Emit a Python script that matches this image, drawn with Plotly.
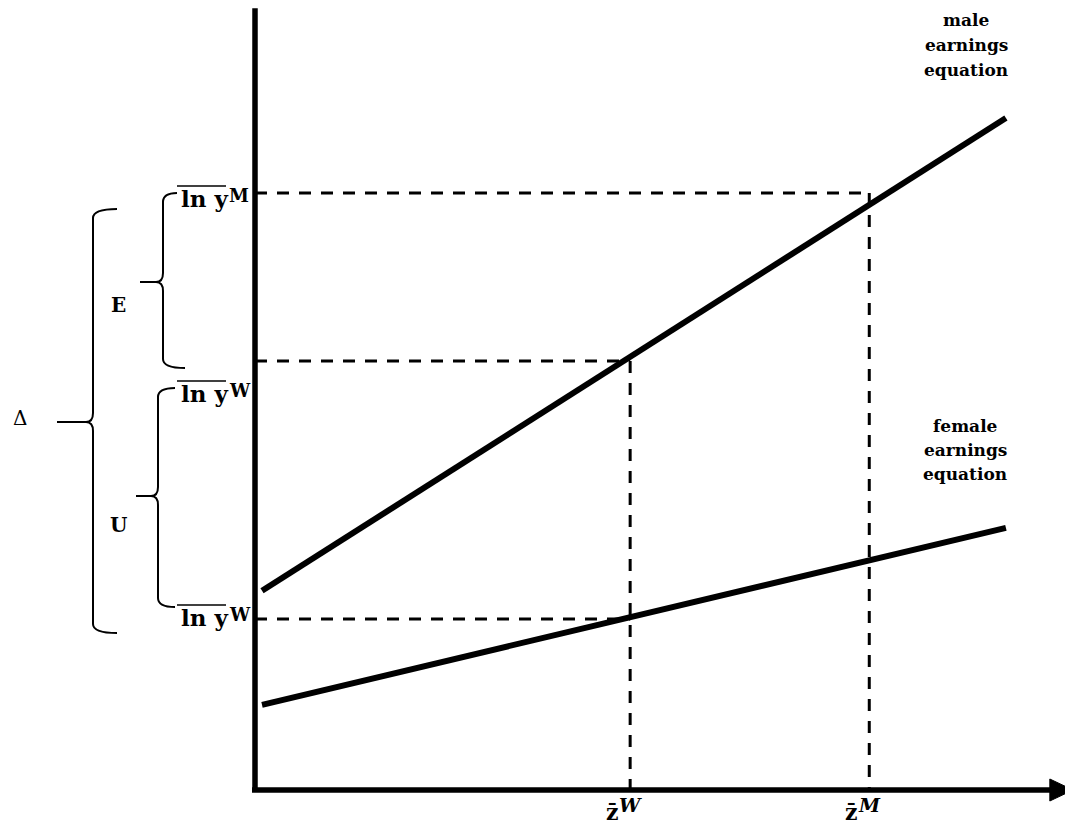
import plotly.graph_objects as go

# values (z = characteristics, ln y = log earnings)
z_bar_w = 6.15
z_bar_m = 10.07
male_z = [0.115, 12.31]
male_lny = [3.32, 11.2]
female_z = [0.115, 12.31]
female_lny = [1.42, 4.37]
lny_bar_m = 9.95
lny_w_male_coef = 7.15   # women's mean z priced with the male equation
lny_bar_w = 2.85
axis_top = 13.03
axis_end = 13.41

W, H = 1073, 822
PAGE_OFF = 8              # the page body margin pushes the figure in by this much
PX_X, PX_Y = 61.0, 60.0   # pixels per data unit
OX, OY = 255, 790         # pixel position of the origin (page coordinates)

def X(px):
    return (px - OX) / PX_X

def Y(py):
    return (OY - py) / PX_Y

FONT = "DejaVu Serif"
BLACK = "black"

fig = go.Figure()

fig.add_trace(go.Scatter(x=male_z, y=male_lny, mode="lines",
                         line=dict(color=BLACK, width=6), hoverinfo="skip"))
fig.add_trace(go.Scatter(x=female_z, y=female_lny, mode="lines",
                         line=dict(color=BLACK, width=6), hoverinfo="skip"))

dash = dict(color=BLACK, width=3, dash="12px,10px")
# dashed guides
for zv, yv in [(z_bar_m, lny_bar_m), (z_bar_w, lny_w_male_coef), (z_bar_w, lny_bar_w)]:
    fig.add_shape(type="line", x0=0, x1=zv, y0=yv, y1=yv, line=dash)
for zv, yv in [(z_bar_m, lny_bar_m), (z_bar_w, lny_w_male_coef)]:
    fig.add_shape(type="line", x0=zv, x1=zv, y0=yv, y1=0, line=dash)

# axes
fig.add_shape(type="line", x0=0, x1=0, y0=0, y1=axis_top, line=dict(color=BLACK, width=5.5))
fig.add_shape(type="line", x0=X(252), x1=axis_end - 0.3, y0=0, y1=0, line=dict(color=BLACK, width=5.5))
fig.add_shape(type="path",
              path=f"M {axis_end - 0.38} {Y(779)} L {axis_end} {Y(790)} L {axis_end - 0.38} {Y(801)} Z",
              fillcolor=BLACK, line=dict(color=BLACK, width=1))


def brace(xc, ytop, ybot, ymid, arm_top, arm_bot, tip, r=9, c=7):
    p = (f"M {X(xc + arm_top)} {Y(ytop)} Q {X(xc)} {Y(ytop)} {X(xc)} {Y(ytop + r)} "
         f"L {X(xc)} {Y(ymid - r)} Q {X(xc)} {Y(ymid)} {X(xc - c)} {Y(ymid)} "
         f"L {X(tip)} {Y(ymid)} M {X(xc - c)} {Y(ymid)} "
         f"Q {X(xc)} {Y(ymid)} {X(xc)} {Y(ymid + r)} "
         f"L {X(xc)} {Y(ybot - r)} Q {X(xc)} {Y(ybot)} {X(xc + arm_bot)} {Y(ybot)}")
    fig.add_shape(type="path", path=p, line=dict(color=BLACK, width=2))


brace(163, 193, 368, 282, 14, 22, 140)
brace(158, 388, 607, 496, 17, 17, 136)
brace(93, 209, 633, 422, 24, 24, 57)

# ln y labels with overlines (overline height in page pixels)
labels = [("M", 186), ("W", 381), ("W", 605)]
for sup, py in labels:
    fig.add_annotation(x=X(179), y=Y(py + 12), xref="x", yref="y", xanchor="left", yanchor="middle",
                       text="<b>ln y</b>", showarrow=False,
                       font=dict(family=FONT, size=23, color=BLACK))
    fig.add_annotation(x=X(227), y=Y(py + 9), xref="x", yref="y", xanchor="left", yanchor="middle",
                       text=f"<b>{sup}</b>", showarrow=False,
                       font=dict(family=FONT, size=18, color=BLACK))
    fig.add_shape(type="line", x0=X(177), x1=X(226), y0=Y(py), y1=Y(py),
                  line=dict(color=BLACK, width=1.5))

fig.add_annotation(x=X(118), y=Y(305), xref="x", yref="y", text="<b>E</b>", showarrow=False,
                   font=dict(family=FONT, size=20, color=BLACK))
fig.add_annotation(x=X(118), y=Y(525), xref="x", yref="y", text="<b>U</b>", showarrow=False,
                   font=dict(family=FONT, size=20, color=BLACK))
fig.add_annotation(x=X(20), y=Y(418), xref="x", yref="y", text="Δ", showarrow=False,
                   font=dict(family=FONT, size=20, color=BLACK))

# z-bar labels under the dashed verticals
for zv, sup in [(z_bar_w, "W"), (z_bar_m, "M")]:
    fig.add_annotation(x=zv - 18 / PX_X, y=Y(812), xref="x", yref="y", xanchor="center", yanchor="middle",
                       text="<b>z\u0304</b>", showarrow=False,
                       font=dict(family=FONT, size=22, color=BLACK))
    fig.add_annotation(x=zv - 13 / PX_X, y=Y(805), xref="x", yref="y", xanchor="left", yanchor="middle",
                       text=f"<b><i>{sup}</i></b>", showarrow=False,
                       font=dict(family=FONT, size=19, color=BLACK))

for i, word in enumerate(["male", "earnings", "equation"]):
    fig.add_annotation(x=X(966), y=Y(20 + 25 * i), xref="x", yref="y", text=f"<b>{word}</b>",
                       showarrow=False, font=dict(family=FONT, size=17, color=BLACK))
for i, word in enumerate(["female", "earnings", "equation"]):
    fig.add_annotation(x=X(965), y=Y(426 + 24 * i), xref="x", yref="y", text=f"<b>{word}</b>",
                       showarrow=False, font=dict(family=FONT, size=17, color=BLACK))

fig.update_xaxes(range=[X(PAGE_OFF), X(PAGE_OFF + W)], visible=False, fixedrange=True)
fig.update_yaxes(range=[Y(PAGE_OFF + H), Y(PAGE_OFF)], visible=False, fixedrange=True)
fig.update_layout(width=W, height=H, margin=dict(l=0, r=0, t=0, b=0),
                  plot_bgcolor="white", paper_bgcolor="white", showlegend=False)

fig.write_html("out.html")
